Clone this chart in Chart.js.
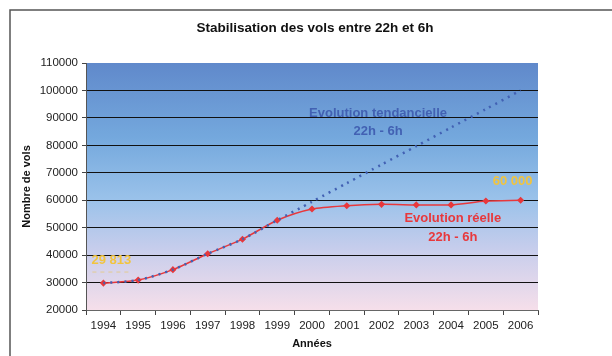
<!DOCTYPE html>
<html>
<head>
<meta charset="utf-8">
<script src="https://cdn.jsdelivr.net/npm/chart.js@4"></script>
<style>
  html, body { margin: 0; padding: 0; background: #fff; }
  #wrap { width: 612px; height: 356px; }
</style>
</head>
<body>
<div id="wrap"><canvas id="chart" width="612" height="356"></canvas></div>
<script>
// data
const years = ["1994", "1995", "1996", "1997", "1998", "1999", "2000", "2001", "2002", "2003", "2004", "2005", "2006"];
const actual = [29813, 30900, 34700, 40500, 45800, 52700, 56800, 58000, 58500, 58300, 58300, 59700, 60000];
const trend = [29813, 30900, 34700, 40500, 45800, 52700, 59450, 66200, 73000, 79700, 86500, 93200, 100000];
const yTicks = [20000, 30000, 40000, 50000, 60000, 70000, 80000, 90000, 100000, 110000];

const TITLE = "Stabilisation des vols entre 22h et 6h";
const FONT = "'Liberation Sans', Arial, sans-serif";
const RED = "#e8383c";
const BLUE = "#4261b3";
const GOLD = "#f2c43e";

// ── background gradient, frame, title
const bgPlugin = {
  id: "bg",
  beforeDraw(chart) {
    const { ctx, chartArea: a } = chart;
    ctx.save();
    ctx.fillStyle = "#fff";
    ctx.fillRect(0, 0, chart.width, chart.height);
    const g = ctx.createLinearGradient(0, a.top, 0, a.bottom);
    g.addColorStop(0, "#6089cb");
    g.addColorStop(0.3, "#74a8dd");
    g.addColorStop(0.55, "#9ac2ea");
    g.addColorStop(0.75, "#c6cdec");
    g.addColorStop(1, "#f6dfea");
    ctx.fillStyle = g;
    ctx.fillRect(a.left, a.top, a.right - a.left, a.bottom - a.top);
    // frame
    ctx.strokeStyle = "#555";
    ctx.lineWidth = 1.5;
    ctx.beginPath();
    ctx.moveTo(10, chart.height);
    ctx.lineTo(10, 10);
    ctx.lineTo(chart.width, 10);
    ctx.stroke();
    // title
    ctx.fillStyle = "#111";
    ctx.font = "bold 13.5px " + FONT;
    ctx.textAlign = "center";
    ctx.textBaseline = "middle";
    ctx.fillText(TITLE, 315, 28);
    ctx.restore();
  },
};

// ── text annotations
const notesPlugin = {
  id: "notes",
  afterDatasetsDraw(chart) {
    const { ctx } = chart;
    const x = chart.scales.x, y = chart.scales.y;
    ctx.save();
    ctx.font = "bold 13px " + FONT;
    ctx.textAlign = "center";
    ctx.textBaseline = "middle";

    // trend label
    ctx.fillStyle = BLUE;
    const tx = x.getPixelForValue(7.9);
    ctx.fillText("Evolution tendancielle", tx, y.getPixelForValue(91800));
    ctx.fillText("22h - 6h", tx, y.getPixelForValue(85000));

    // actual label
    ctx.fillStyle = RED;
    const rx = x.getPixelForValue(10.05);
    ctx.fillText("Evolution réelle", rx, y.getPixelForValue(53300));
    ctx.fillText("22h - 6h", rx, y.getPixelForValue(46600));

    // first / last values
    ctx.fillStyle = GOLD;
    const x0 = x.getPixelForValue(0), y0 = y.getPixelForValue(actual[0]);
    ctx.fillText("29 813", x0 + 8, y0 - 23);
    ctx.strokeStyle = "rgba(242,196,62,0.5)";
    ctx.lineWidth = 1;
    ctx.setLineDash([4, 4]);
    ctx.beginPath();
    ctx.moveTo(x0 - 11, y0 - 11);
    ctx.lineTo(x0 + 29, y0 - 11);
    ctx.stroke();
    ctx.setLineDash([]);
    const xn = x.getPixelForValue(years.length - 1), yn = y.getPixelForValue(actual[actual.length - 1]);
    ctx.fillText("60 000", xn - 8, yn - 19);
    ctx.restore();
  },
};

new Chart(document.getElementById("chart").getContext("2d"), {
  type: "line",
  data: {
    labels: years,
    datasets: [
      {
        label: "Evolution tendancielle",
        data: trend,
        borderColor: BLUE,
        borderWidth: 2.5,
        borderDash: [2, 5],
        pointRadius: 0,
        tension: 0.25,
        fill: false,
        order: 1,
      },
      {
        label: "Evolution réelle",
        data: actual,
        borderColor: RED,
        borderWidth: 1.5,
        pointStyle: "rectRot",
        pointRadius: 2.5,
        pointBackgroundColor: RED,
        pointBorderColor: RED,
        tension: 0.25,
        fill: false,
        order: 2,
      },
    ],
  },
  options: {
    responsive: false,
    animation: false,
    layout: { padding: { left: 16, right: 74, top: 63, bottom: 0 } },
    plugins: {
      legend: { display: false },
      tooltip: { enabled: false },
      title: { display: false },
    },
    scales: {
      x: {
        offset: true,
        grid: { offset: true, drawOnChartArea: false, tickLength: 5, tickColor: "#444" },
        border: { color: "#666", width: 1 },
        afterFit: (s) => { s.height = 46; },
        ticks: {
          color: "#222",
          padding: 4,
          maxRotation: 0,
          font: { family: FONT, size: 11.5 },
        },
        title: {
          display: true,
          text: "Années",
          color: "#111",
          padding: { top: 4, bottom: 5 },
          font: { family: FONT, size: 11, weight: "bold" },
        },
      },
      y: {
        min: 20000,
        max: 110000,
        afterBuildTicks: (s) => { s.ticks = yTicks.map((v) => ({ value: v })); },
        afterFit: (s) => { s.width = 70; },
        grid: {
          color: (c) => (c.tick && c.tick.value === 110000 ? "rgba(0,0,0,0)" : "#111"),
          lineWidth: 1,
          tickLength: 4,
          tickColor: "#444",
        },
        border: { color: "#555", width: 1 },
        ticks: {
          color: "#222",
          padding: 4,
          callback: (v) => String(v),
          font: { family: FONT, size: 11.5 },
        },
        title: {
          display: true,
          text: "Nombre de vols",
          color: "#111",
          padding: { top: 4, bottom: 6 },
          font: { family: FONT, size: 11, weight: "bold" },
        },
      },
    },
  },
  plugins: [bgPlugin, notesPlugin],
});
</script>
</body>
</html>
